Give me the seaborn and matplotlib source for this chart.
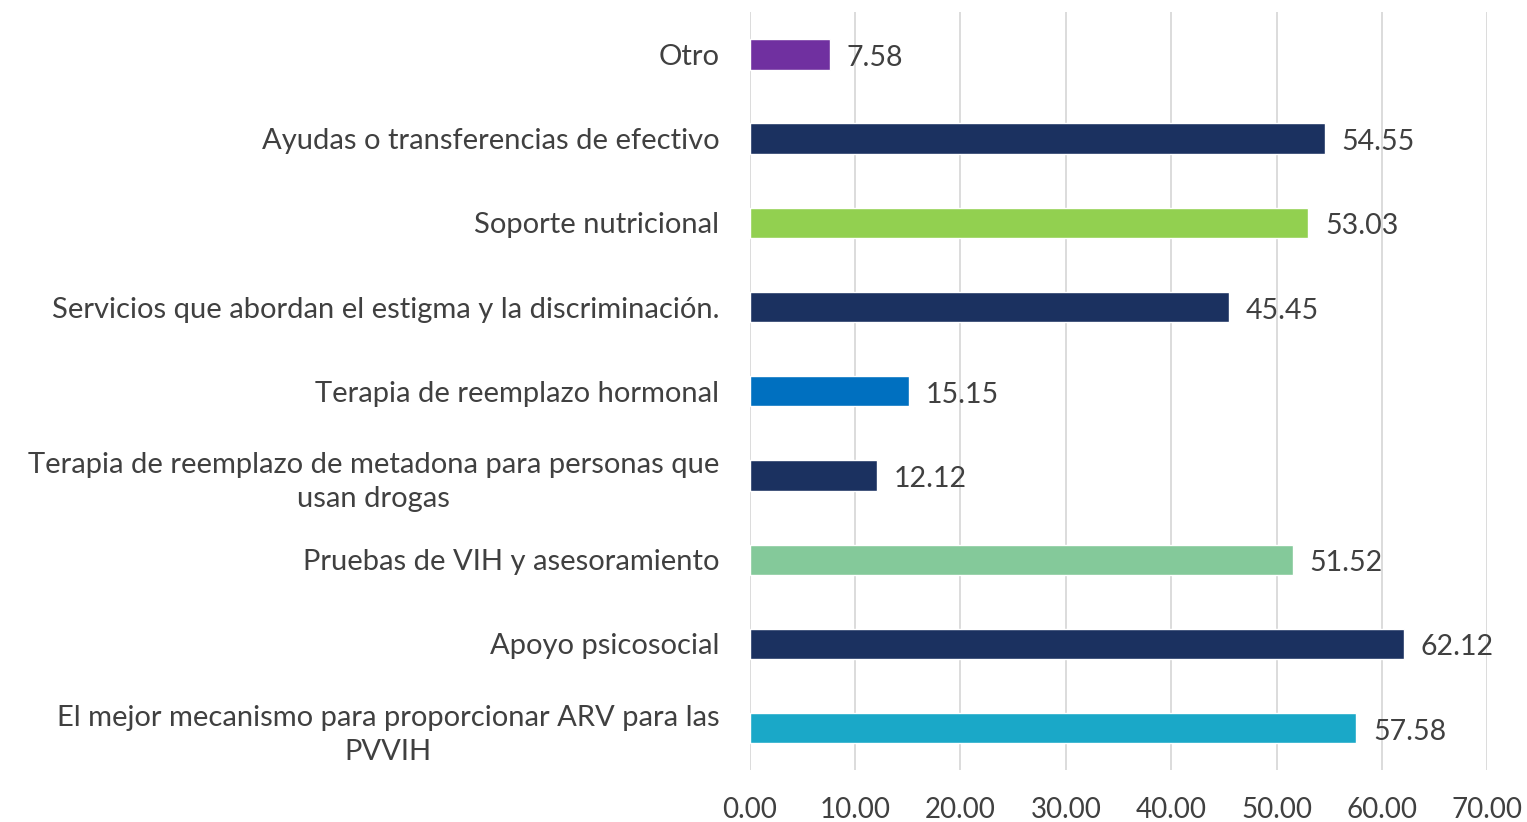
import matplotlib
matplotlib.use("Agg")
import matplotlib.pyplot as plt
import seaborn as sns
import pandas as pd

categories = [
    "Otro",
    "Ayudas o transferencias de efectivo",
    "Soporte nutricional",
    "Servicios que abordan el estigma y la discriminación.",
    "Terapia de reemplazo hormonal",
    "Terapia de reemplazo de metadona para personas que\nusan drogas",
    "Pruebas de VIH y asesoramiento",
    "Apoyo psicosocial",
    "El mejor mecanismo para proporcionar ARV para las\nPVVIH",
]
values = [7.58, 54.55, 53.03, 45.45, 15.15, 12.12, 51.52, 62.12, 57.58]
colors = ["#7030A0", "#1B3160", "#92D050", "#1B3160", "#0070C0",
          "#1B3160", "#84C99A", "#1B3160", "#1AA8C8"]
xticks = [0, 10, 20, 30, 40, 50, 60, 70]

sns.set_theme(style="white")
plt.rcParams['font.family'] = ['Lato', 'DejaVu Sans']

df = pd.DataFrame({"cat": categories, "val": values})

fig = plt.figure(figsize=(15.27, 8.22), dpi=100)
ax = fig.add_axes([0.491, 0.063, 0.974 - 0.491, 0.985 - 0.063])

sns.barplot(data=df, y="cat", x="val", hue="cat", palette=colors,
            order=categories, hue_order=categories, legend=False,
            width=0.36, ax=ax, saturation=1)

for c in ax.containers:
    anns = ax.bar_label(c, fmt="%.2f", padding=12, fontsize=20.5, color="#404040")
    for a in anns:
        a.xyann = (12, -2.5)

ax.set_xlim(0, 70)
ax.set_ylim(8.5, -0.5)
ax.set_xticks(xticks)
ax.set_xticklabels([f"{t:.2f}" for t in xticks])
ax.set_xlabel("")
ax.set_ylabel("")
for s in ax.spines.values():
    s.set_visible(False)
ax.grid(axis="x", color="#D9D9D9", linewidth=1.3)
ax.grid(axis="y", visible=False)
ax.set_axisbelow(True)
ax.tick_params(axis="y", length=0, pad=22, labelsize=21, labelcolor="#404040")
ax.tick_params(axis="x", length=0, pad=19, labelsize=20, labelcolor="#404040")
for lab in ax.get_yticklabels():
    lab.set_multialignment("center")
    lab.set_linespacing(1.4)

fig.savefig("out.png", dpi=100)
